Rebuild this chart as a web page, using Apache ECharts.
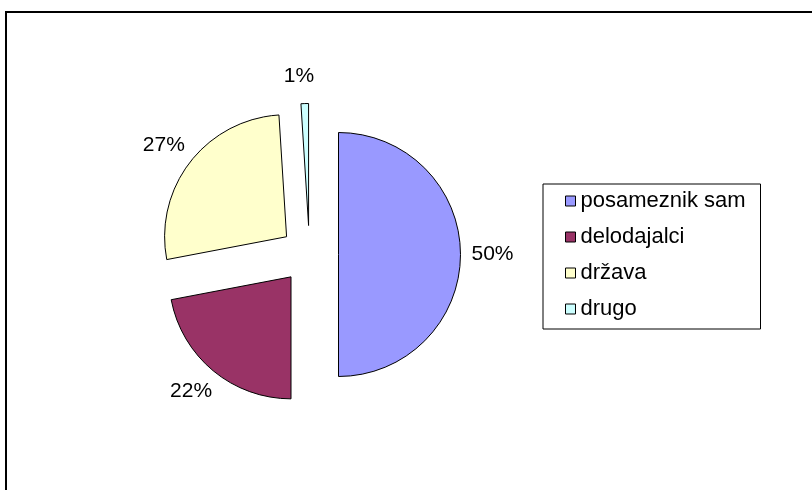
<!DOCTYPE html>
<html>
<head>
<meta charset="utf-8">
<script src="https://cdn.jsdelivr.net/npm/echarts@6/dist/echarts.min.js"></script>
<style>
html,body{margin:0;padding:0;background:#fff;}
#chart{width:812px;height:490px;}
</style>
</head>
<body>
<div id="chart"></div>
<script>
const categories = ['posameznik sam', 'delodajalci', 'država', 'drugo'];
const values = [50, 22, 27, 1];
const colors = ['#9999FF', '#993366', '#FFFFCC', '#CCFFFF'];

const chart = echarts.init(document.getElementById('chart'), null, {renderer: 'canvas'});
const FONT = '"Liberation Sans", Arial, sans-serif';

chart.setOption({
  animation: false,
  backgroundColor: '#fff',
  graphic: [{
    type: 'rect',
    shape: {x: 6, y: 12, width: 900, height: 600},
    style: {fill: 'none', stroke: '#000', lineWidth: 2},
    silent: true
  }],
  legend: {
    orient: 'vertical',
    left: 543,
    top: 184,
    padding: [6, 14, 9, 22],
    itemGap: 14,
    itemWidth: 10,
    itemHeight: 10,
    itemTextGap: 6,
    icon: 'rect',
    borderColor: '#000',
    borderWidth: 1,
    selectedMode: false,
    itemStyle: {borderColor: '#000', borderWidth: 1},
    textStyle: {fontFamily: FONT, fontSize: 22, lineHeight: 22, color: '#000', width: 166},
    data: categories
  },
  series: [{
    type: 'pie',
    center: [309.5, 254.5],
    radius: 122,
    startAngle: 90,
    clockwise: true,
    selectedMode: 'multiple',
    selectedOffset: 29,
    avoidLabelOverlap: false,
    itemStyle: {borderColor: '#000', borderWidth: 1},
    select: {itemStyle: {borderColor: '#000', borderWidth: 1}},
    emphasis: {disabled: true},
    label: {
      show: true,
      position: 'outside',
      formatter: '{d}%',
      fontFamily: FONT,
      fontSize: 21,
      color: '#000'
    },
    labelLine: {show: false, length: 27, length2: 0},
    labelLayout: function () { return {align: 'center', verticalAlign: 'middle'}; },
    data: categories.map((c, i) => ({
      name: c,
      value: values[i],
      selected: true,
      itemStyle: {color: colors[i]}
    }))
  }]
});
</script>
</body>
</html>
